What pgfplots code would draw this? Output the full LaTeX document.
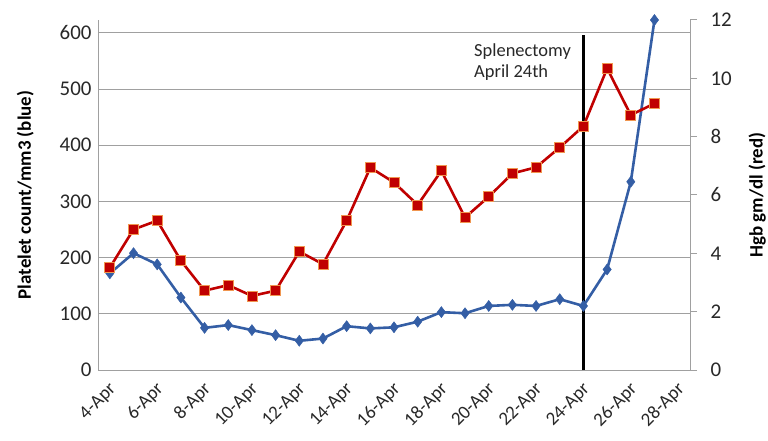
\documentclass[border=0pt]{standalone}
\usepackage{pgfplots}
\pgfplotsset{compat=1.18}
\usepackage{pgfplotstable}
\usepackage{fontspec}
\setmainfont{Carlito}
\definecolor{pblue}{RGB}{52,94,165}
\definecolor{hred}{RGB}{192,0,0}
\definecolor{hedge}{RGB}{240,150,80}
\definecolor{gridc}{RGB}{160,160,160}
\definecolor{txt}{RGB}{40,40,40}

\pgfplotstableread{
day plt hgb
4 172 3.51
5 208 4.82
6 188 5.12
7 129 3.75
8 75 2.72
9 80 2.91
10 71 2.54
11 62 2.72
12 52 4.06
13 56 3.63
14 78 5.12
15 74 6.94
16 76 6.43
17 86 5.66
18 103 6.83
19 101 5.23
20 114 5.94
21 116 6.74
22 114 6.95
23 126 7.63
24 114 8.36
25 179 10.34
26 335 8.74
27 623 9.14
}\datatable

\begin{document}
\begin{tikzpicture}
\useasboundingbox (0,0) rectangle (768bp,441bp);
\begin{axis}[
  at={(98bp,71bp)}, anchor=south west,
  scale only axis, width=592bp, height=350bp,
  xmin=3.5, xmax=28.5, ymin=0, ymax=623,
  axis x line*=bottom, axis y line*=left,
  axis line style={gridc, line width=1bp, -},
  xtick={4,6,...,28},
  xticklabels={4-Apr,6-Apr,8-Apr,10-Apr,12-Apr,14-Apr,16-Apr,18-Apr,20-Apr,22-Apr,24-Apr,26-Apr,28-Apr},
  ytick={0,100,...,600},
  major tick length=0pt,
  ymajorgrids, grid style={gridc, line width=1bp},
  /pgf/number format/assume math mode=true,
  yticklabel style={font=\fontsize{21}{25}\selectfont, text=txt, xshift=-3bp},
  xticklabel style={font=\fontsize{19}{23}\selectfont, text=txt, xshift=6bp, yshift=-14bp, rotate=45, anchor=east},
  ylabel={\bfseries Platelet count/mm3 (blue)},
  ylabel style={font=\fontsize{19}{23}\selectfont, yshift=19bp},
  clip=false,
]
\addplot[black, line width=2.5bp] coordinates {(24,0) (24,596)};
\addplot[pblue, line width=2.6bp, mark=diamond*, mark size=5.5bp, mark options={fill=pblue, draw=pblue, line width=0.5bp}] table[x=day, y=plt] {\datatable};
\node[anchor=north west, align=left, font=\fontsize{18.5}{22}\selectfont, text=txt, inner sep=0pt] at (axis cs:19.38,582) {Splenectomy\\April 24th};
\end{axis}
\begin{axis}[
  at={(98bp,71bp)}, anchor=south west,
  scale only axis, width=592bp, height=350bp,
  xmin=3.5, xmax=28.5, ymin=0, ymax=12,
  axis x line=none, axis y line*=right,
  axis line style={gridc, line width=1bp, -},
  ytick={0,2,...,12},
  tick align=outside, major tick length=7bp,
  tick style={gridc, line width=1bp},
  /pgf/number format/assume math mode=true,
  yticklabel style={font=\fontsize{21}{25}\selectfont, text=txt, xshift=10bp},
  ylabel={\bfseries Hgb gm/dl (red)},
  ylabel style={font=\fontsize{19}{23}\selectfont, yshift=-10bp},
  clip=false,
]
\addplot[hred, line width=2.6bp, mark=square*, mark size=5bp, mark options={fill=hred, draw=hedge, line width=0.8bp}] table[x=day, y=hgb] {\datatable};
\end{axis}
\end{tikzpicture}
\end{document}
